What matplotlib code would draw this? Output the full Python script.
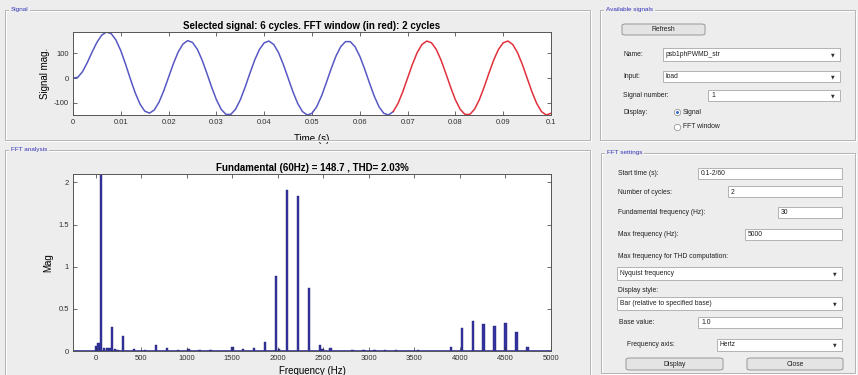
import numpy as np
import matplotlib
matplotlib.use("Agg")
import matplotlib.pyplot as plt
from matplotlib.patches import Rectangle, FancyBboxPatch
from matplotlib.lines import Line2D
from matplotlib.ticker import FormatStrFormatter

plt.rcParams['font.family'] = ['Liberation Sans', 'DejaVu Sans']
plt.rcParams['axes.unicode_minus'] = False

# Signal samples, one every 1 ms from 0 to 0.1 s
sample_step = 0.001
signal_vals = [
    0.0, 2.6, 25.7, 62.3, 104.3, 143.2, 171.9, 184.7, 178.1, 152.1,
    109.5, 55.3, -3.4, -58.9, -104.0, -132.7, -141.1, -128.4, -96.7, -50.5,
    3.5, 57.6, 104.2, 136.5, 150.1, 142.8, 115.8, 72.6, 19.4, -36.3,
    -86.9, -125.5, -146.1, -146.1, -125.5, -87.4, -37.0, 18.6, 71.6, 114.6,
    141.4, 148.4, 134.5, 101.8, 54.7, 0.0, -54.7, -101.8, -134.5, -148.4,
    -141.4, -114.6, -71.6, -18.6, 37.0, 87.4, 125.5, 146.1, 146.1, 125.5,
    87.4, 37.0, -18.6, -71.6, -114.6, -141.4, -148.4, -134.5, -101.8, -54.7,
    0.0, 54.7, 101.8, 134.5, 148.4, 141.4, 114.6, 71.6, 18.6, -37.0,
    -87.4, -125.5, -146.1, -146.1, -125.5, -87.4, -37.0, 18.6, 71.6, 114.6,
    141.4, 148.4, 134.5, 101.8, 54.7, 0.0, -54.7, -101.8, -134.5, -148.4,
    -141.4,
]
fft_window_start = 67  # sample index where the red FFT window begins

# FFT spectrum (relative to base 1.0)
freqs = [0, 30, 60, 90, 120, 150, 180, 210, 240, 300, 420, 540, 660, 780, 900,
         1020, 1140, 1260, 1500, 1620, 1740, 1860, 1980, 2010, 2100, 2220, 2340,
         2460, 2490, 2580, 2820, 2940, 3060, 3180, 3300, 3540, 3900, 4020, 4140,
         4260, 4380, 4500, 4620, 4740]
mags = [0.06, 0.09, 148.7, 0.035, 0.03, 0.03, 0.28, 0.02, 0.015, 0.18, 0.02,
        0.015, 0.068, 0.03, 0.01, 0.02, 0.01, 0.008, 0.045, 0.025, 0.03, 0.107,
        0.886, 0.02, 1.905, 1.84, 0.75, 0.068, 0.02, 0.035, 0.01, 0.015, 0.008,
        0.006, 0.006, 0.015, 0.052, 0.274, 0.354, 0.326, 0.302, 0.333, 0.222,
        0.052]

sig_title = 'Selected signal: 6 cycles. FFT window (in red): 2 cycles'
fft_title = 'Fundamental (60Hz) = 148.7 , THD= 2.03%'

# GUI widget texts
name_val = 'psb1phPWMD_str'
input_val = 'load'
signal_num = '1'
settings = [('Start time (s):', '0.1-2/60'), ('Number of cycles:', '2'),
            ('Fundamental frequency (Hz):', '30'), ('Max frequency (Hz):', '5000')]

W, H = 858, 375
bg = '#ededed'
fig = plt.figure(figsize=(W / 100, H / 100), dpi=100, facecolor=bg)


def fx(x):
    return x / W


def fy(y):
    return 1 - y / H


def box(x0, y0, x1, y1, fc='white', ec='#a8a8a8', lw=0.6, z=1):
    r = Rectangle((fx(x0), fy(y1)), (x1 - x0) / W, (y1 - y0) / H,
                  transform=fig.transFigure, fc=fc, ec=ec, lw=lw, zorder=z)
    fig.add_artist(r)


def label(x, y, s, size=4.9, color='#202020', **kw):
    fig.text(fx(x), fy(y), s, fontsize=size, color=color, va='center', **kw)


def panel(x0, y0, x1, y1, title):
    box(x0 + 1, y0 + 1, x1 + 1, y1 + 1, fc='none', ec='white', lw=0.7)
    box(x0, y0, x1, y1, fc='none', ec='#b4b4b4', lw=0.7)
    fig.text(fx(x0 + 6), fy(y0), title, fontsize=4.6, color='#3434b8', va='center',
             zorder=3, bbox=dict(fc=bg, ec='none', pad=1.2))


def button(x0, y0, x1, y1, s):
    r = FancyBboxPatch((fx(x0), fy(y1)), (x1 - x0) / W, (y1 - y0) / H,
                       boxstyle='round,pad=0,rounding_size=0.004',
                       transform=fig.transFigure, fc='#e4e4e4', ec='#8a8a8a', lw=0.6)
    fig.add_artist(r)
    fig.text(fx((x0 + x1) / 2), fy((y0 + y1) / 2), s, fontsize=4.9, color='#202020',
             ha='center', va='center')


def edit(x0, y0, x1, y1, s):
    box(x0, y0, x1, y1)
    label(x0 + 3, (y0 + y1) / 2, s)


def popup(x0, y0, x1, y1, s):
    box(x0, y0, x1, y1)
    label(x0 + 3, (y0 + y1) / 2, s)
    fig.text(fx(x1 - 7), fy((y0 + y1) / 2), '\u25bc', fontsize=3.4, color='#303030',
             ha='center', va='center', family='DejaVu Sans')


def radio(x, y, s, on=False):
    fig.add_artist(Line2D([fx(x)], [fy(y)], marker='o', markersize=4.6, mfc='white',
                          mec='#8a8a8a', mew=0.5, transform=fig.transFigure))
    if on:
        fig.add_artist(Line2D([fx(x)], [fy(y)], marker='o', markersize=2.2,
                              mfc='#3a6fc8', mec='none', transform=fig.transFigure))
    label(x + 6, y, s)


# ---- panels
panel(5, 10, 590, 140, 'Signal')
panel(5, 150, 590, 380, 'FFT analysis')
panel(600, 10, 855, 140, 'Available signals')
panel(601, 153, 855, 373, 'FFT settings')

# ---- signal axes
t = np.arange(len(signal_vals)) * sample_step
ax1 = fig.add_axes([fx(73), fy(115), 478 / W, 83 / H])
ax1.plot(t[:fft_window_start + 1], signal_vals[:fft_window_start + 1],
         color='#5858c4', lw=1.1)
ax1.plot(t[fft_window_start:], signal_vals[fft_window_start:], color='#e0303c', lw=1.1)
ax1.set_xlim(0, 0.1)
ax1.set_ylim(min(signal_vals), max(signal_vals))
ax1.set_xticks(np.arange(0, 0.1001, 0.01))
ax1.set_yticks([-100, 0, 100])
ax1.xaxis.set_major_formatter(FormatStrFormatter('%g'))
ax1.set_title(sig_title, fontsize=7, fontweight='bold', pad=2.5)
ax1.set_xlabel('Time (s)', fontsize=7)
ax1.set_ylabel('Signal mag.', fontsize=7)
ax1.xaxis.set_label_coords(0.5, -0.225)
ax1.yaxis.set_label_coords(-0.048, 0.5)

# ---- FFT axes
ax2 = fig.add_axes([fx(73), fy(351), 478 / W, 177 / H])
ax2.bar(freqs, mags, width=26, color='#3434a0', edgecolor='#242478', lw=0.3)
ax2.axhline(0, color='#3434a0', lw=1.2)
ax2.set_xlim(-250, 5000)
ax2.set_ylim(0, 2.1)
ax2.set_xticks(np.arange(0, 5001, 500))
ax2.set_yticks([0, 0.5, 1, 1.5, 2])
ax2.yaxis.set_major_formatter(FormatStrFormatter('%g'))
ax2.set_title(fft_title, fontsize=7, fontweight='bold', pad=2.5)
ax2.set_xlabel('Frequency (Hz)', fontsize=7)
ax2.set_ylabel('Mag', fontsize=7)
ax2.xaxis.set_label_coords(0.5, -0.082)
ax2.yaxis.set_label_coords(-0.042, 0.5)

for ax in (ax1, ax2):
    ax.set_facecolor('white')
    ax.tick_params(direction='in', top=True, right=True, length=3, width=0.5,
                   labelsize=5.5, pad=3, colors='#303030')
    for sp in ax.spines.values():
        sp.set_color('#555555')
        sp.set_linewidth(0.7)

# ---- Available signals widgets
button(622, 24, 705, 35, 'Refresh')
label(623, 54, 'Name:')
popup(663, 48, 840, 61, name_val)
label(623, 76, 'Input:')
popup(663, 71, 840, 82, input_val)
label(623, 95, 'Signal number:')
popup(708, 90, 840, 101, signal_num)
label(623, 112, 'Display:')
radio(677, 112, 'Signal', on=True)
radio(677, 127, 'FFT window')

# ---- FFT settings widgets
rows_y = [173, 192, 212.5, 234]
box_x0 = [698, 728, 778, 745]
for (txt, val), y, x0 in zip(settings, rows_y, box_x0):
    label(618, y, txt)
    edit(x0, y - 5.5, 842, y + 5.5, val)
label(618, 257, 'Max frequency for THD computation:')
popup(617, 267, 842, 280, 'Nyquist frequency')
label(618, 290, 'Display style:')
popup(617, 297, 842, 310, 'Bar (relative to specified base)')
label(619, 322.5, 'Base value:')
edit(698, 317, 842, 328, '1.0')
label(627, 345, 'Frequency axis:')
popup(717, 339, 842, 351, 'Hertz')
button(626, 358, 723, 370, 'Display')
button(747, 358, 843, 370, 'Close')

fig.savefig('out.png', dpi=100, facecolor=bg)
